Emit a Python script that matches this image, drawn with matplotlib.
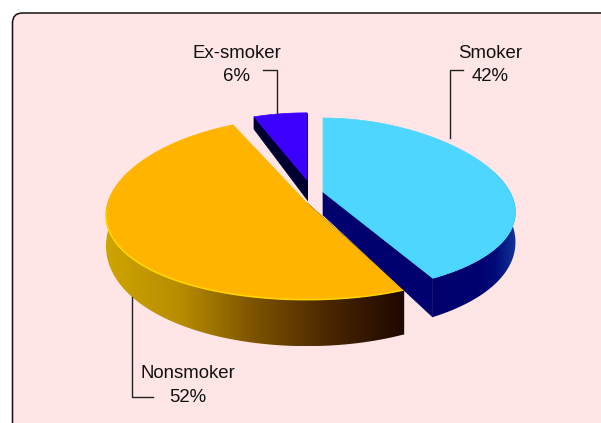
import numpy as np
import matplotlib
matplotlib.use('Agg')
import matplotlib.pyplot as plt
from matplotlib.colors import LinearSegmentedColormap
from matplotlib.patches import FancyBboxPatch, Polygon

plt.rcParams['font.family'] = ['Liberation Sans', 'DejaVu Sans']

categories = ['Smoker', 'Nonsmoker', 'Ex-smoker']
shares = [42, 52, 6]

top_colors = {'Smoker': '#4dd6ff', 'Nonsmoker': '#ffb400', 'Ex-smoker': '#3c00ff'}
# wall colours, right end of the slice first
side_ramps = {
    'Smoker': ['#14349a', '#000a78', '#00006e', '#00006e', '#00006e'],
    'Nonsmoker': ['#1e0800', '#4a2600', '#7c5200', '#b88c00', '#cda400'],
    'Ex-smoker': ['#000030', '#000030'],
}
cut_colors = {'Smoker': '#00006e', 'Nonsmoker': '#1e0800', 'Ex-smoker': '#000030'}
# apex x, apex y, ellipse centre y, rx, ry, x perspective, y perspective, wall depth
geometry = {
    'Smoker': (323, 192, 192, 187, 87, 0.25, 0.15, 27),
    'Nonsmoker': (307, 203, 215, 201, 91, 0.0, -0.07, 31),
    'Ex-smoker': (307, 180, 180, 144, 79, 0.0, 0.15, 23),
}
draw_order = ['Ex-smoker', 'Nonsmoker', 'Smoker']


def project(name, theta):
    ax_, _, cy, rx, ry, k, m, _ = geometry[name]
    f = -np.cos(theta)
    return ax_ + rx * np.sin(theta) * (1 + k * f), cy + ry * f * (1 + m * f)


def depth(theta, base):
    return base * (1 + 0.5 * (-np.cos(theta)))


fig = plt.figure(figsize=(6.01, 4.23), dpi=100)
ax = fig.add_axes([0, 0, 1, 1])

ax.add_patch(FancyBboxPatch((12.5, 13), 700, 500, boxstyle='round,pad=0,rounding_size=10',
                            fc='#ffe5e5', ec='#111111', lw=1.1))

# slice angles, clockwise from twelve o'clock
edges = np.cumsum([0] + shares) / sum(shares) * 2 * np.pi
spans = {c: (edges[i], edges[i + 1]) for i, c in enumerate(categories)}

for name in draw_order:
    start, end = spans[name]
    th = np.linspace(start, end, 200)
    x, y = project(name, th)
    apex_x, apex_y = geometry[name][:2]
    base = geometry[name][7]
    cmap = LinearSegmentedColormap.from_list(name, side_ramps[name])
    dark = cut_colors[name]

    # flat cut faces from the centre to both slice ends
    for t_end in (start, end):
        if name == 'Nonsmoker' and t_end == end:
            continue
        ex, ey = project(name, t_end)
        dd = depth(t_end, base)
        ax.fill([apex_x, ex, ex, apex_x], [apex_y, ey, ey + dd, apex_y + base * 0.85],
                fc=dark, ec=dark, lw=0.5, zorder=2)

    # curved outer wall, only the part facing the viewer
    front = -np.cos(th) > -0.25
    wx, wy = x[front], y[front]
    wd = depth(th[front], base)
    if len(wx) > 1:
        wall = Polygon(np.c_[np.r_[wx, wx[::-1]], np.r_[wy, (wy + wd)[::-1]]], closed=True,
                       fc='none', ec='none', transform=ax.transData)
        ax.add_patch(wall)
        ramp = np.linspace(1, 0, 256).reshape(1, -1)
        im = ax.imshow(ramp, cmap=cmap, vmin=0, vmax=1, aspect='auto', zorder=2,
                       extent=(wx.min(), wx.max(), (wy + wd).max(), wy.min()))
        im.set_clip_path(wall)

    ax.fill(np.r_[apex_x, x], np.r_[apex_y, y], fc=top_colors[name], ec=top_colors[name],
            lw=0.5, zorder=2)

    if name == 'Nonsmoker':
        mask = -np.cos(th) > -0.05
        ax.plot(x[mask], y[mask], color='#ffd400', lw=1.2, zorder=2)

ax.set_xlim(0, 601)
ax.set_ylim(423, 0)
ax.set_aspect('auto')
ax.axis('off')

# leader lines
line_color = '#222222'
ax.plot([263, 277, 277], [70, 70, 115], color=line_color, lw=1, zorder=3)
ax.plot([463, 449.5, 449.5], [70, 70, 138], color=line_color, lw=1, zorder=3)
ax.plot([131.5, 131.5, 153], [297, 397, 397], color=line_color, lw=1, zorder=3)

labels = {'Ex-smoker': (237, 53, 76), 'Smoker': (490, 53, 76), 'Nonsmoker': (188, 373, 397)}
for name, share in zip(categories, shares):
    lx, y1, y2 = labels[name]
    ax.text(lx, y1 + 0.5, name, ha='center', va='center', fontsize=13.4, color='#111111', zorder=4)
    ax.text(lx, y2 + 0.5, f'{share}%', ha='center', va='center', fontsize=13.4, color='#111111', zorder=4)

fig.savefig('out.png', dpi=100, facecolor='white')
